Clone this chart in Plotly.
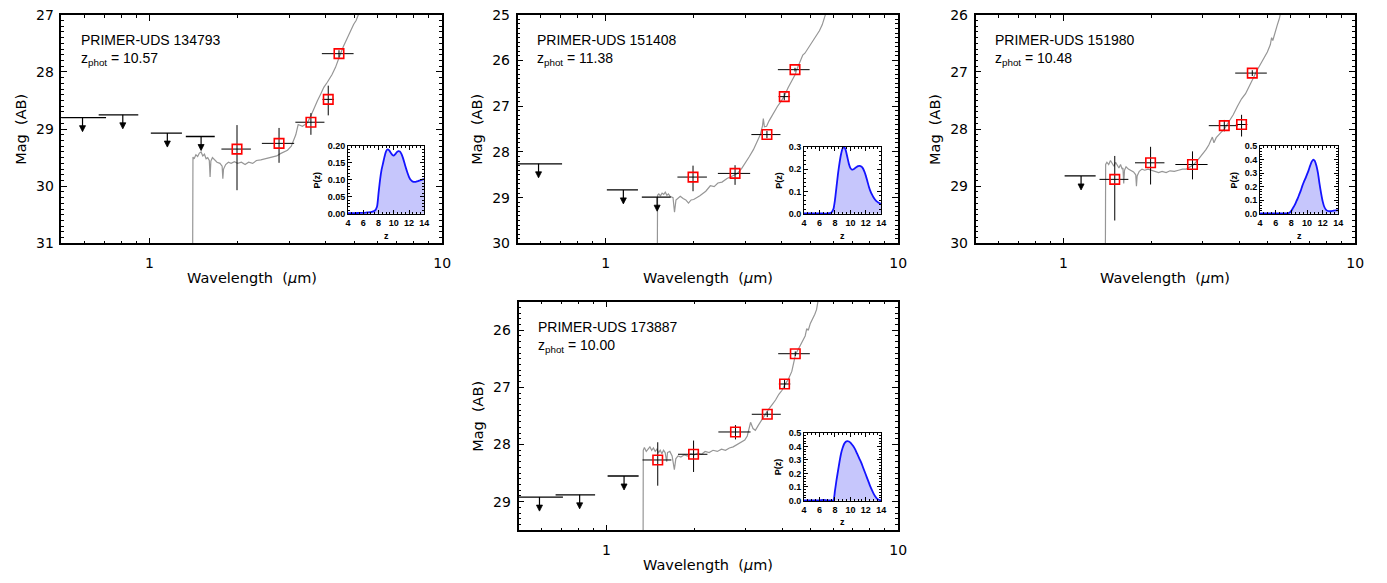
import numpy as np
import plotly.graph_objects as go

W, H = 1387, 583
nan = np.nan

# ---------------- filters ----------------
filters = ["F606W", "F814W", "F115W", "F150W", "F200W", "F277W", "F356W", "F410M", "F444W"]
filt_lam = [0.59, 0.81, 1.15, 1.50, 1.99, 2.77, 3.56, 4.08, 4.44]
filt_lo = [0.47, 0.67, 1.01, 1.33, 1.76, 2.42, 3.15, 3.90, 3.88]
filt_hi = [0.71, 0.915, 1.29, 1.67, 2.22, 3.12, 3.96, 4.27, 4.98]

# ---------------- objects ----------------
obj_names = ["PRIMER-UDS 134793", "PRIMER-UDS 151408", "PRIMER-UDS 151980", "PRIMER-UDS 173887"]
obj_zphot = ["10.57", "11.38", "10.48", "10.00"]

mag1 = [28.80, 28.75, 29.07, 29.13, 29.35, 29.25, 28.88, 28.48, 27.68]
ul1 = [1, 1, 1, 1, 0, 0, 0, 0, 0]
errp1 = [0, 0, 0, 0, 0.72, 0.34, 0.22, 0.28, 0.07]
errm1 = [0, 0, 0, 0, 0.42, 0.27, 0.16, 0.24, 0.06]

mag2 = [28.26, nan, 28.83, 28.99, 28.55, 28.47, 27.62, 26.79, 26.20]
ul2 = [1, 0, 1, 1, 0, 0, 0, 0, 0]
errp2 = [0, 0, 0, 0, 0.31, 0.25, 0.08, 0.08, 0.04]
errm2 = [0, 0, 0, 0, 0.25, 0.18, 0.08, 0.08, 0.04]

mag3 = [nan, nan, 28.82, 28.88, 28.59, 28.62, 27.94, 27.92, 27.02]
ul3 = [0, 0, 1, 0, 0, 0, 0, 0, 0]
errp3 = [0, 0, 0, 0.72, 0.38, 0.26, 0.10, 0.21, 0.05]
errm3 = [0, 0, 0, 0.41, 0.28, 0.23, 0.10, 0.17, 0.05]

mag4 = [28.92, 28.88, 28.55, 28.27, 28.17, 27.78, 27.47, 26.94, 26.41]
ul4 = [1, 1, 1, 0, 0, 0, 0, 0, 0]
errp4 = [0, 0, 0, 0.45, 0.31, 0.13, 0.05, 0.07, 0.04]
errm4 = [0, 0, 0, 0.31, 0.24, 0.12, 0.05, 0.07, 0.04]

# ---------------- best-fit SEDs ----------------
sed1_lam = [1.400, 1.407, 1.42, 1.44, 1.46, 1.48, 1.50, 1.52, 1.54, 1.56, 1.58, 1.60, 1.61, 1.62,
            1.64, 1.67, 1.70, 1.74, 1.77, 1.78, 1.79, 1.82, 1.86, 1.90, 1.95, 2.00, 2.06, 2.12,
            2.18, 2.25, 2.32, 2.40, 2.48, 2.56, 2.64, 2.72, 2.80, 2.90, 2.96, 3.05, 3.10, 3.16,
            3.22, 3.33, 3.40, 3.46, 3.55, 3.64, 3.75, 3.85, 3.94, 4.05, 4.15, 4.20, 4.32, 4.40,
            4.48, 4.60, 4.72, 4.85, 4.98, 5.08, 5.17, 5.25]
sed1_mag = [33.0, 29.49, 29.52, 29.45, 29.48, 29.42, 29.40, 29.47, 29.44, 29.52, 29.50, 29.55, 29.84, 29.56,
            29.50, 29.55, 29.58, 29.60, 29.65, 29.87, 29.70, 29.62, 29.58, 29.60, 29.57, 29.60, 29.58, 29.62,
            29.58, 29.60, 29.55, 29.54, 29.52, 29.50, 29.48, 29.47, 29.43, 29.40, 29.37, 29.30, 29.22, 29.10,
            28.92, 28.95, 28.92, 28.89, 28.78, 28.64, 28.50, 28.38, 28.27, 28.18, 28.10, 28.05, 27.92, 27.80,
            27.70, 27.55, 27.42, 27.30, 27.17, 27.10, 27.00, 26.85]

sed2_lam = [1.500, 1.505, 1.52, 1.54, 1.56, 1.58, 1.60, 1.62, 1.64, 1.66, 1.70, 1.72, 1.74, 1.77,
            1.80, 1.84, 1.88, 1.92, 1.96, 2.00, 2.10, 2.20, 2.28, 2.35, 2.42, 2.50, 2.60, 2.70,
            2.82, 2.92, 3.00, 3.10, 3.20, 3.30, 3.38, 3.44, 3.46, 3.49, 3.55, 3.62, 3.72, 3.80,
            3.87, 3.95, 4.02, 4.08, 4.20, 4.35, 4.45, 4.50, 4.58, 4.65, 4.72, 4.80, 4.90, 5.00,
            5.12, 5.25, 5.38, 5.50, 5.62, 5.70]
sed2_mag = [32.0, 28.95, 28.92, 28.96, 28.90, 28.93, 28.88, 28.95, 28.92, 28.97, 29.00, 29.32, 29.05, 29.00,
            28.97, 29.02, 29.05, 29.12, 29.05, 29.04, 28.96, 28.86, 28.74, 28.76, 28.68, 28.66, 28.58, 28.53,
            28.47, 28.36, 28.25, 28.10, 27.95, 27.75, 27.62, 27.42, 27.27, 27.45, 27.44, 27.32, 27.18, 27.08,
            27.00, 26.92, 26.84, 26.78, 26.60, 26.43, 26.30, 26.20, 26.08, 26.00, 25.88, 25.84, 25.75, 25.68,
            25.57, 25.47, 25.35, 25.22, 25.04, 24.90]

sed3_lam = [1.390, 1.396, 1.41, 1.43, 1.45, 1.47, 1.49, 1.51, 1.53, 1.55, 1.57, 1.59, 1.60, 1.61,
            1.62, 1.64, 1.67, 1.70, 1.74, 1.77, 1.78, 1.79, 1.82, 1.86, 1.90, 1.95, 2.00, 2.06,
            2.12, 2.18, 2.25, 2.32, 2.40, 2.48, 2.56, 2.64, 2.72, 2.80, 2.90, 3.00, 3.08, 3.15,
            3.20, 3.24, 3.28, 3.34, 3.45, 3.56, 3.68, 3.82, 3.95, 4.08, 4.21, 4.35, 4.48, 4.60,
            4.73, 4.86, 5.00, 5.12, 5.17, 5.22, 5.30, 5.40, 5.50, 5.56]
sed3_mag = [32.0, 28.62, 28.58, 28.62, 28.55, 28.60, 28.65, 28.58, 28.62, 28.68, 28.62, 28.70, 28.68, 28.95,
            28.72, 28.66, 28.70, 28.72, 28.75, 28.80, 29.00, 28.82, 28.74, 28.70, 28.72, 28.70, 28.72, 28.74,
            28.76, 28.74, 28.76, 28.73, 28.74, 28.72, 28.70, 28.70, 28.66, 28.62, 28.53, 28.44, 28.36, 28.28,
            28.18, 28.14, 28.24, 28.15, 28.07, 28.00, 27.88, 27.75, 27.60, 27.47, 27.38, 27.22, 27.10, 26.98,
            26.87, 26.76, 26.65, 26.52, 26.40, 26.45, 26.32, 26.19, 26.06, 25.95]

sed4_lam = [1.335, 1.338, 1.35, 1.37, 1.39, 1.41, 1.43, 1.45, 1.47, 1.49, 1.51, 1.53, 1.55, 1.57,
            1.59, 1.61, 1.62, 1.65, 1.68, 1.71, 1.73, 1.76, 1.80, 1.85, 1.90, 1.95, 2.00, 2.06,
            2.12, 2.18, 2.25, 2.32, 2.40, 2.48, 2.56, 2.64, 2.72, 2.80, 2.90, 2.98, 3.04, 3.08,
            3.12, 3.18, 3.24, 3.32, 3.40, 3.50, 3.60, 3.70, 3.80, 3.90, 4.00, 4.09, 4.20, 4.32,
            4.45, 4.58, 4.73, 4.80, 4.86, 4.92, 5.00, 5.10, 5.18, 5.25, 5.30, 5.35]
sed4_mag = [31.0, 28.10, 28.05, 28.12, 28.08, 28.04, 28.10, 28.06, 28.12, 28.08, 28.14, 28.10, 28.16, 28.10,
            28.14, 28.30, 28.14, 28.12, 28.20, 28.44, 28.25, 28.20, 28.22, 28.18, 28.20, 28.16, 28.18, 28.15,
            28.17, 28.12, 28.14, 28.10, 28.12, 28.08, 28.10, 28.06, 28.04, 28.00, 27.96, 27.92, 27.85, 27.75,
            27.61, 27.72, 27.75, 27.66, 27.58, 27.46, 27.38, 27.30, 27.22, 27.12, 27.05, 26.95, 26.86, 26.72,
            26.42, 26.30, 26.17, 26.10, 25.97, 26.00, 25.88, 25.80, 25.72, 25.64, 25.50, 25.40]

# ---------------- P(z) ----------------
pz_z = [4.0, 4.5, 5.0, 5.5, 6.0, 6.5, 7.0, 7.5, 7.8, 8.0, 8.2, 8.4, 8.6, 8.8, 9.0, 9.2, 9.4, 9.6,
        9.8, 10.0, 10.2, 10.4, 10.6, 10.8, 11.0, 11.2, 11.4, 11.6, 11.8, 12.0, 12.2, 12.4, 12.6,
        12.8, 13.0, 13.2, 13.4, 13.6, 13.8, 14.0]
pz1 = [0.001, 0.001, 0.001, 0.002, 0.002, 0.003, 0.004, 0.008, 0.02, 0.06, 0.10, 0.13, 0.15, 0.17,
       0.185, 0.19, 0.187, 0.18, 0.174, 0.172, 0.176, 0.182, 0.185, 0.184, 0.177, 0.165, 0.15, 0.134,
       0.12, 0.108, 0.10, 0.096, 0.094, 0.094, 0.095, 0.096, 0.098, 0.10, 0.101, 0.102]
pz2 = [0.0, 0.0, 0.0, 0.0, 0.0, 0.0, 0.0, 0.003, 0.02, 0.06, 0.12, 0.18, 0.23, 0.27,
       0.295, 0.30, 0.285, 0.255, 0.225, 0.205, 0.198, 0.20, 0.205, 0.21, 0.214, 0.215, 0.212, 0.205,
       0.19, 0.17, 0.145, 0.12, 0.10, 0.085, 0.072, 0.062, 0.055, 0.05, 0.046, 0.044]
pz3 = [0.0, 0.0, 0.0, 0.0, 0.0, 0.0, 0.0, 0.001, 0.008, 0.02, 0.04, 0.06, 0.085, 0.11,
       0.14, 0.17, 0.205, 0.235, 0.26, 0.29, 0.32, 0.355, 0.385, 0.40, 0.39, 0.355, 0.30, 0.22,
       0.15, 0.09, 0.05, 0.03, 0.02, 0.017, 0.017, 0.019, 0.021, 0.023, 0.024, 0.025]
pz4 = [0.0, 0.0, 0.0, 0.0, 0.0, 0.004, 0.0, 0.0, 0.0, 0.07, 0.15, 0.22, 0.29, 0.35,
       0.39, 0.42, 0.435, 0.44, 0.437, 0.428, 0.415, 0.40, 0.38, 0.355, 0.33, 0.305, 0.28, 0.25,
       0.22, 0.19, 0.16, 0.13, 0.10, 0.075, 0.05, 0.03, 0.015, 0.007, 0.003, 0.001]

objects = [
    dict(mag=mag1, ul=ul1, ep=errp1, em=errm1, sl=sed1_lam, sm=sed1_mag, pz=pz1),
    dict(mag=mag2, ul=ul2, ep=errp2, em=errm2, sl=sed2_lam, sm=sed2_mag, pz=pz2),
    dict(mag=mag3, ul=ul3, ep=errp3, em=errm3, sl=sed3_lam, sm=sed3_mag, pz=pz3),
    dict(mag=mag4, ul=ul4, ep=errp4, em=errm4, sl=sed4_lam, sm=sed4_mag, pz=pz4),
]

# ---------------- layout geometry (pixels) ----------------
main_px = [(59, 443, 7, 242), (519, 903, 7, 242), (981, 1364, 7, 242), (520, 903, 302, 537)]
inset_px = [(348, 425, 142, 212), (808, 886, 143, 212), (1268, 1347, 142, 212), (808, 886, 437, 507)]
main_yrange = [(31, 27), (30, 25), (30, 26), (29.5, 25.5)]
inset_y = [(-0.002, 0.2, 0.05, ".2f"), (-0.003, 0.3, 0.1, ".1f"),
           (-0.005, 0.5, 0.1, ".1f"), (-0.005, 0.5, 0.1, ".1f")]

def xdom(p):
    return [p[0] / W, p[1] / W]

def ydom(p):
    return [1 - p[3] / H, 1 - p[2] / H]

def ax_id(k):
    return ("x", "y") if k == 1 else (f"x{k}", f"y{k}")

def lay_key(k):
    return ("xaxis", "yaxis") if k == 1 else (f"xaxis{k}", f"yaxis{k}")

fig = go.Figure()
annotations = []
shapes = []
layout = {}

TICKFONT = dict(family="DejaVu Sans", size=14, color="black")
TITLEFONT = dict(family="DejaVu Sans", size=14.5, color="black")
LABELFONT = dict(family="Liberation Sans", size=14, color="black")
SMALLFONT = dict(family="Liberation Sans", size=9, color="black")
minor_x = [0.5, 0.6, 0.7, 0.8, 0.9, 2, 3, 4, 5, 6, 7, 8, 9]

for i, ob in enumerate(objects):
    n = i + 1
    m = i + 5
    xa, ya = ax_id(n)
    xi, yi = ax_id(m)
    kxa, kya = lay_key(n)
    kxi, kyi = lay_key(m)

    lam = np.array(filt_lam)
    lo = np.array(filt_lo)
    hi = np.array(filt_hi)
    mag = np.array(ob["mag"], dtype=float)
    ul = np.array(ob["ul"], dtype=bool)
    det = (~ul) & np.isfinite(mag)

    # SED
    fig.add_trace(go.Scatter(x=ob["sl"], y=ob["sm"], mode="lines",
                             line=dict(color="rgb(150,150,150)", width=1.2),
                             xaxis=xa, yaxis=ya, showlegend=False, hoverinfo="skip"))
    # upper limits (bars)
    fig.add_trace(go.Scatter(x=lam[ul], y=mag[ul], mode="markers",
                             marker=dict(size=1, color="rgba(0,0,0,0)"),
                             error_x=dict(type="data", symmetric=False,
                                          array=(hi - lam)[ul], arrayminus=(lam - lo)[ul],
                                          color="black", thickness=1.3, width=0),
                             xaxis=xa, yaxis=ya, showlegend=False, hoverinfo="skip"))
    # upper-limit arrows: fixed pixel-size shapes anchored at each limit
    for lw, mw in zip(lam[ul], mag[ul]):
        shapes.append(dict(type="line", xref=xa, yref=ya, xsizemode="pixel", ysizemode="pixel",
                           xanchor=float(lw), yanchor=float(mw), x0=0, x1=0, y0=0, y1=-11,
                           line=dict(color="black", width=1.2)))
        shapes.append(dict(type="path", xref=xa, yref=ya, xsizemode="pixel", ysizemode="pixel",
                           xanchor=float(lw), yanchor=float(mw),
                           path="M -3,-8 L 0,-14 L 3,-8 Z", fillcolor="black",
                           line=dict(color="black", width=0.8)))
    # detections
    fig.add_trace(go.Scatter(x=lam[det], y=mag[det], mode="markers",
                             marker=dict(symbol="square-open", size=9.5, color="red",
                                         line=dict(color="red", width=1.6)),
                             error_x=dict(type="data", symmetric=False,
                                          array=(hi - lam)[det], arrayminus=(lam - lo)[det],
                                          color="black", thickness=1, width=0),
                             error_y=dict(type="data", symmetric=False,
                                          array=np.array(ob["ep"])[det],
                                          arrayminus=np.array(ob["em"])[det],
                                          color="black", thickness=1, width=0),
                             xaxis=xa, yaxis=ya, showlegend=False, hoverinfo="skip"))

    # P(z) inset
    fig.add_trace(go.Scatter(x=pz_z, y=ob["pz"], mode="lines", fill="tozeroy",
                             fillcolor="rgb(198,198,252)",
                             line=dict(color="rgb(20,20,255)", width=1.8, shape="spline", smoothing=0.6),
                             xaxis=xi, yaxis=yi, showlegend=False, hoverinfo="skip"))

    p = main_px[i]
    ymax, ymin = main_yrange[i][0], main_yrange[i][1]
    layout[kxa] = dict(
        domain=xdom(p), anchor=ya, type="log", range=[np.log10(0.5), 1],
        tickmode="array", tickvals=[1, 10], ticktext=["1", "10"],
        ticks="inside", ticklen=6, tickwidth=1.3, tickcolor="black",
        minor=dict(tickmode="array", tickvals=minor_x, ticks="inside", ticklen=3,
                   tickwidth=1, tickcolor="black"),
        showline=True, linecolor="black", linewidth=1.5, mirror="ticks",
        showgrid=False, zeroline=False, tickfont=TICKFONT, ticklabelstandoff=6)
    layout[kya] = dict(
        domain=ydom(p), anchor=xa, range=[ymax, ymin],
        tick0=0, dtick=1, ticks="inside", ticklen=6, tickwidth=1.3, tickcolor="black",
        minor=dict(dtick=0.1, ticks="inside", ticklen=3, tickwidth=1, tickcolor="black"),
        showline=True, linecolor="black", linewidth=1.5, mirror="ticks",
        showgrid=False, zeroline=False, tickfont=TICKFONT, ticklabelstandoff=3)

    q = inset_px[i]
    ylo, yhi, ydt, yfmt = inset_y[i]
    layout[kxi] = dict(
        domain=xdom(q), anchor=yi, range=[4, 14], tick0=4, dtick=2,
        ticks="inside", ticklen=4, tickwidth=1, tickcolor="black",
        minor=dict(dtick=0.5, ticks="inside", ticklen=2, tickwidth=1, tickcolor="black"),
        showline=True, linecolor="black", linewidth=1, mirror="ticks",
        showgrid=False, zeroline=False,
        tickfont=dict(family="Liberation Sans", size=9, color="black", weight="bold"))
    layout[kyi] = dict(
        domain=ydom(q), anchor=xi, range=[ylo, yhi], tick0=0, dtick=ydt, tickformat=yfmt,
        ticks="inside", ticklen=4, tickwidth=1, tickcolor="black",
        minor=dict(dtick=ydt / 5, ticks="inside", ticklen=2, tickwidth=1, tickcolor="black"),
        showline=True, linecolor="black", linewidth=1, mirror="ticks",
        showgrid=False, zeroline=False,
        tickfont=dict(family="Liberation Sans", size=9, color="black", weight="bold"))

    # text labels
    annotations.append(dict(x=0.045, y=0.889, xref=f"{xa} domain", yref=f"{ya} domain",
                            text=obj_names[i], showarrow=False, xanchor="left", yanchor="middle",
                            font=LABELFONT))
    annotations.append(dict(x=0.045, y=0.806, xref=f"{xa} domain", yref=f"{ya} domain",
                            text=f"z<sub>phot</sub> = {obj_zphot[i]}", showarrow=False,
                            xanchor="left", yanchor="middle", font=LABELFONT))
    annotations.append(dict(x=0.5, y=-0.153, xref=f"{xa} domain", yref=f"{ya} domain",
                            text="Wavelength  (<i>μ</i>m)", showarrow=False,
                            xanchor="center", yanchor="middle", font=TITLEFONT))
    annotations.append(dict(x=-0.107, y=0.5, xref=f"{xa} domain", yref=f"{ya} domain",
                            text="Mag  (AB)", showarrow=False, textangle=-90,
                            xanchor="center", yanchor="middle", font=TITLEFONT))
    off = 31 if i == 0 else 26
    annotations.append(dict(x=-off / (q[1] - q[0]), y=0.5, xref=f"{xi} domain", yref=f"{yi} domain",
                            text="<b>P(z)</b>", showarrow=False, textangle=-90,
                            xanchor="center", yanchor="middle", font=SMALLFONT))
    annotations.append(dict(x=0.5, y=-22 / (q[3] - q[2]), xref=f"{xi} domain", yref=f"{yi} domain",
                            text="<b>z</b>", showarrow=False,
                            xanchor="center", yanchor="middle", font=SMALLFONT))

fig.update_layout(**layout)
fig.update_layout(width=W, height=H, margin=dict(l=0, r=0, t=0, b=0),
                  paper_bgcolor="white", plot_bgcolor="white",
                  showlegend=False, annotations=annotations, shapes=shapes)

fig.write_html("out.html", config={"displayModeBar": False},
               post_script="document.body.style.margin='0px';document.body.style.padding='0px';")
